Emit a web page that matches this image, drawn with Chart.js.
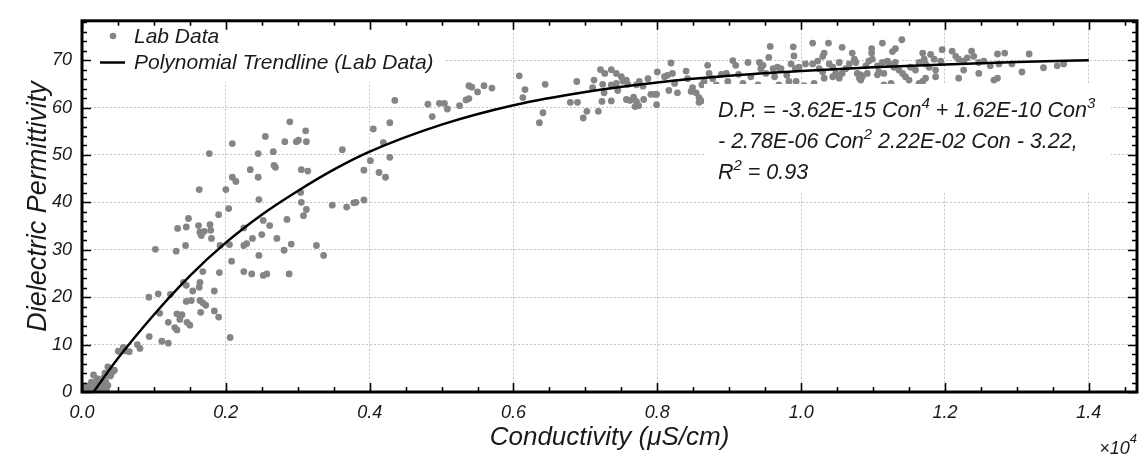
<!DOCTYPE html>
<html lang="en">
<head>
  <meta charset="UTF-8" />
  <title>Dielectric Permittivity vs Conductivity</title>
  <script src="https://cdn.jsdelivr.net/npm/chart.js"></script>
  <style>
    body { margin: 0; background: #ffffff; }
    .wrap { width: 1141px; height: 461px; }
  </style>
</head>
<body>
  <div class="wrap">
    <canvas id="dpChart" width="1141" height="461"></canvas>
  </div>

  <script>
    // Lab data: conductivity (x10^4 uS/cm) and dielectric permittivity
    const labCond = [
      0.002, 0.004, 0.006, 0.008, 0.010, 0.012, 0.013, 0.015, 0.016, 0.017, 0.018, 0.020, 0.021, 0.022, 0.023, 0.024, 0.025,
      0.026, 0.027, 0.028, 0.029, 0.030, 0.030, 0.031, 0.032, 0.033, 0.034, 0.036, 0.036, 0.039, 0.040, 0.0435, 0.045,
      0.0505, 0.0574, 0.0597, 0.0657, 0.0769, 0.0806, 0.0935, 0.111, 0.120, 0.206,
      0.289, 0.311, 0.255, 0.282, 0.298, 0.301, 0.312, 0.209, 0.177, 0.245, 0.266, 0.267, 0.269, 0.234, 0.305, 0.314,
      0.209, 0.214, 0.245, 0.163, 0.200, 0.246, 0.304, 0.305, 0.312, 0.308, 0.204, 0.190, 0.148, 0.133, 0.145, 0.162,
      0.164, 0.166, 0.170, 0.178, 0.179, 0.180, 0.252, 0.261, 0.285, 0.225, 0.237, 0.229, 0.225, 0.250, 0.271, 0.291,
      0.281, 0.326, 0.336, 0.246, 0.208, 0.225, 0.236, 0.252, 0.257, 0.288, 0.191, 0.192, 0.205, 0.144, 0.131, 0.102,
      0.141, 0.145, 0.164, 0.163, 0.154, 0.168, 0.184, 0.093, 0.106, 0.123, 0.145, 0.152, 0.164, 0.168, 0.172, 0.184,
      0.190, 0.165, 0.132, 0.139, 0.136, 0.120, 0.129, 0.132, 0.146, 0.150, 0.108,
      0.608, 0.616, 0.613, 0.644, 0.641, 0.636, 0.538, 0.542, 0.550, 0.559, 0.570, 0.534, 0.538, 0.525, 0.481, 0.497,
      0.504, 0.508, 0.487, 0.435, 0.428, 0.405, 0.419, 0.428, 0.401, 0.392, 0.413, 0.422, 0.362, 0.348, 0.368, 0.378,
      0.381, 0.392,
      0.688, 0.679, 0.689, 0.702, 0.697, 0.718, 0.712, 0.710, 0.721, 0.727, 0.736, 0.743, 0.750, 0.724, 0.726, 0.736,
      0.743, 0.745, 0.752, 0.757, 0.759, 0.723, 0.736, 0.757, 0.762, 0.767, 0.771, 0.774, 0.769, 0.781, 0.787, 0.791,
      0.796, 0.771, 0.775, 0.780, 0.800, 0.799, 0.799, 0.810, 0.814, 0.819, 0.821, 0.824, 0.828, 0.816, 0.840, 0.842,
      0.847, 0.849, 0.854, 0.858, 0.861, 0.862, 0.865, 0.870, 0.872, 0.877, 0.882, 0.889, 0.896, 0.858, 0.898, 0.905,
      0.909, 0.913, 0.919, 0.926, 0.930, 0.940, 0.942, 0.944, 0.947, 0.951, 0.955, 0.957, 0.961, 0.963, 0.967, 0.969,
      0.972, 0.980, 0.983, 0.986, 0.989, 0.990, 0.992, 0.993, 0.997, 0.956, 0.967, 0.926, 0.905, 0.895, 0.877, 0.993,
      1.016, 1.038, 1.057, 1.113, 1.140, 1.098, 1.098, 1.131, 1.127, 1.032, 1.030, 1.006, 1.016, 1.023, 1.025, 1.030,
      1.039, 1.044, 1.048, 1.053, 1.057, 1.062, 1.067, 1.071, 1.074, 1.076, 1.078, 1.083, 1.085, 1.090, 1.094, 1.099,
      1.106, 1.108, 1.113, 1.115, 1.120, 1.122, 1.129, 1.131, 1.136, 1.141, 1.145, 1.152, 1.159, 1.164, 1.169, 1.171,
      1.173, 1.178, 1.180, 1.185, 1.187, 1.194, 1.196, 1.210, 1.215, 1.219, 1.226, 1.231, 1.237, 1.240, 1.247, 1.254,
      1.263, 1.273, 1.275, 1.283, 1.293, 1.317, 1.337, 1.356, 1.365,
      1.004, 1.018, 1.032, 1.044, 1.053, 1.064, 1.081, 1.083, 1.092, 1.106, 1.115, 1.122, 1.125, 1.138, 1.150, 1.159,
      1.164, 1.169, 1.173, 1.187, 1.219, 1.226, 1.247, 1.268, 1.273, 1.307
    ];
    const labDP = [
      0.2, 0.6, 1.3, 0.3, 1.0, 0.4, 2.1, 0.8, 3.6, 1.2, 0.2, 1.5, 2.8, 0.6, 2.4, 2.0, 1.1,
      1.6, 0.3, 2.6, 2.5, 1.8, 3.0, 0.9, 4.0, 2.2, 0.5, 1.4, 5.3, 3.4, 3.5, 4.4, 4.6,
      8.6, 9.4, 8.7, 8.5, 10.0, 9.2, 11.7, 10.7, 10.3, 11.5,
      57.0, 55.1, 53.9, 52.8, 52.8, 53.1, 52.8, 52.4, 50.3, 50.3, 50.7, 47.8, 47.4, 46.9, 46.9, 46.6,
      45.3, 44.4, 45.3, 42.7, 42.7, 40.6, 42.1, 40.0, 38.5, 37.2, 38.7, 37.4, 36.6, 34.5, 34.8, 35.1,
      33.7, 33.0, 33.9, 35.3, 34.1, 32.4, 36.2, 35.1, 36.4, 34.6, 32.4, 31.3, 30.9, 33.2, 32.4, 31.2,
      29.9, 30.9, 28.8, 28.8, 27.6, 25.4, 24.9, 24.6, 24.9, 24.9, 25.2, 30.9, 31.1, 30.9, 29.7, 30.1,
      23.1, 22.5, 23.1, 22.1, 21.3, 25.4, 21.3, 20.0, 20.7, 20.6, 19.1, 19.3, 19.3, 18.8, 18.3, 17.1,
      15.8, 16.8, 16.5, 16.3, 15.3, 14.7, 13.6, 13.1, 14.7, 14.1, 16.6,
      66.7, 63.8, 62.1, 64.9, 58.9, 56.8, 64.6, 64.3, 63.3, 64.6, 64.1, 61.6, 61.9, 60.4, 60.7, 60.9,
      60.9, 59.7, 58.1, 61.5, 56.8, 55.5, 52.6, 49.5, 48.8, 46.8, 46.3, 45.3, 51.1, 39.4, 39.0, 39.9,
      40.0, 40.5,
      65.5, 61.1, 61.1, 59.2, 57.8, 59.2, 65.8, 64.2, 68.0, 67.2, 68.0, 67.2, 66.5, 64.9, 63.1, 64.8,
      65.1, 63.6, 65.6, 65.8, 64.9, 61.3, 61.4, 61.7, 61.5, 62.2, 61.3, 60.4, 60.2, 61.7, 66.1, 62.8,
      62.8, 64.8, 65.5, 64.5, 67.5, 62.8, 60.6, 66.5, 66.8, 69.4, 67.2, 65.1, 63.1, 63.6, 67.7, 66.1,
      63.4, 64.2, 63.1, 62.1, 61.4, 64.8, 65.5, 68.9, 67.2, 66.1, 64.8, 67.0, 67.2, 61.1, 65.5, 69.9,
      68.9, 67.0, 65.1, 69.5, 66.5, 64.8, 69.5, 68.2, 68.9, 67.2, 70.6, 72.9, 68.2, 66.5, 68.5, 64.8,
      68.2, 66.8, 65.5, 69.2, 72.8, 70.9, 68.2, 65.5, 68.5, 63.4, 63.1, 63.6, 64.1, 64.2, 62.3, 62.3,
      73.6, 73.6, 72.7, 73.6, 74.3, 72.4, 71.5, 72.4, 71.8, 71.5, 70.8, 69.2, 69.2, 69.8, 68.2, 67.5,
      69.2, 68.5, 67.2, 69.5, 67.2, 68.2, 69.2, 71.5, 70.2, 69.5, 67.2, 66.9, 66.5, 68.8, 69.8, 70.2,
      68.8, 67.5, 69.5, 67.2, 69.8, 69.2, 68.5, 69.5, 67.9, 67.2, 66.5, 68.5, 67.9, 69.5, 71.5, 70.2,
      69.2, 68.5, 71.2, 70.2, 67.9, 69.8, 72.2, 71.9, 70.8, 70.2, 69.8, 70.5, 71.9, 70.8, 69.5, 69.8,
      68.8, 71.3, 69.2, 71.5, 69.2, 71.3, 68.4, 68.8, 69.2,
      64.6, 65.1, 66.2, 66.5, 66.2, 63.9, 66.2, 65.8, 67.2, 66.9, 64.8, 64.1, 65.1, 64.1, 65.8, 62.8,
      65.1, 65.5, 66.2, 66.5, 66.2, 67.9, 67.2, 65.8, 66.2, 67.5
    ];

    // Polynomial trendline
    const trendCond = [0.016, 0.05, 0.1, 0.15, 0.2, 0.25, 0.3, 0.35, 0.4, 0.5, 0.6, 0.7, 0.8, 0.9, 1.0, 1.1, 1.2, 1.3, 1.4];
    const trendDP = [0, 7.1, 16.3, 24.5, 31.5, 37.4, 42.4, 46.9, 50.7, 56.4, 60.5, 63.3, 65.3, 66.7, 67.7, 68.5, 69.1, 69.6, 70.0];

    // axes
    const xMax = 1.467, yMax = 78.3;
    const xMinorStep = 0.05, yMinorStep = 2;

    const equationLines = [
      [['D.P. = -3.62E-15 Con', 0], ['4', 1], [' + 1.62E-10 Con', 0], ['3', 1]],
      [['- 2.78E-06 Con', 0], ['2', 1], [' 2.22E-02 Con - 3.22,', 0]],
      [['R', 0], ['2', 1], [' = 0.93', 0]]
    ];

    const FONT = "'Liberation Sans', Arial, sans-serif";
    const INK = '#1a1a1a';

    const labPoints = labCond.map((c, i) => ({ x: c, y: labDP[i] }));
    const trendPoints = trendCond.map((c, i) => ({ x: c, y: trendDP[i] }));

    function drawRich(ctx, parts, x, y, size) {
      parts.forEach(([txt, sup]) => {
        ctx.font = `italic ${sup ? Math.round(size * 0.68) : size}px ${FONT}`;
        ctx.fillText(txt, x, sup ? y - size * 0.42 : y);
        x += ctx.measureText(txt).width;
      });
    }

    // frame, inward ticks, legend and equation box
    const framePlugin = {
      id: 'frame',
      afterDatasetsDraw(chart) {
        const { ctx, chartArea: a, scales } = chart;
        const xs = scales.x, ys = scales.y;
        ctx.save();

        // legend box
        ctx.fillStyle = '#ffffff';
        ctx.fillRect(a.left + 3, a.top + 3, 445 - a.left - 3, 82 - a.top - 3);
        const ds = chart.data.datasets;
        ctx.fillStyle = ds[0].backgroundColor;
        ctx.beginPath();
        ctx.arc(113, 36, 3.3, 0, Math.PI * 2);
        ctx.fill();
        ctx.strokeStyle = ds[1].borderColor;
        ctx.lineWidth = 2.5;
        ctx.beginPath();
        ctx.moveTo(100, 62.5);
        ctx.lineTo(125, 62.5);
        ctx.stroke();
        ctx.fillStyle = INK;
        ctx.textBaseline = 'alphabetic';
        ctx.font = `italic 21px ${FONT}`;
        ctx.fillText(ds[0].label, 134, 43);
        ctx.fillText(ds[1].label, 134, 69);

        // equation box
        ctx.fillStyle = '#ffffff';
        ctx.fillRect(704, 84, 407, 109);
        ctx.fillStyle = INK;
        equationLines.forEach((line, i) => drawRich(ctx, line, 718, 117 + i * 31, 21.5));

        // border
        ctx.strokeStyle = '#000000';
        ctx.lineWidth = 3;
        ctx.strokeRect(a.left, a.top, a.right - a.left, a.bottom - a.top);

        // inward ticks on all four sides
        ctx.lineWidth = 1.6;
        ctx.beginPath();
        for (let v = 0; v <= xMax + 1e-9; v += xMinorStep) {
          const major = Math.abs(v / 0.2 - Math.round(v / 0.2)) < 1e-6;
          const len = major ? 9 : 5;
          const px = Math.round(xs.getPixelForValue(v)) + 0.5;
          ctx.moveTo(px, a.bottom); ctx.lineTo(px, a.bottom - len);
          ctx.moveTo(px, a.top); ctx.lineTo(px, a.top + len);
        }
        for (let v = 0; v <= yMax + 1e-9; v += yMinorStep) {
          const major = v % 10 === 0;
          const len = major ? 9 : 5;
          const py = Math.round(ys.getPixelForValue(v)) + 0.5;
          ctx.moveTo(a.left, py); ctx.lineTo(a.left + len, py);
          ctx.moveTo(a.right, py); ctx.lineTo(a.right - len, py);
        }
        ctx.stroke();

        // x10^4 multiplier
        ctx.fillStyle = INK;
        ctx.textAlign = 'right';
        ctx.font = `italic 13px ${FONT}`;
        ctx.fillText('4', a.right, 443);
        const w4 = ctx.measureText('4').width;
        ctx.font = `italic 18px ${FONT}`;
        ctx.fillText('\u00d710', a.right - w4, 454);
        ctx.restore();
      }
    };

    const ctx = document.getElementById('dpChart').getContext('2d');
    new Chart(ctx, {
      type: 'scatter',
      data: {
        datasets: [
          {
            label: 'Lab Data',
            data: labPoints,
            backgroundColor: '#858585',
            borderWidth: 0,
            pointRadius: 3.4,
            order: 2
          },
          {
            type: 'line',
            label: 'Polynomial Trendline (Lab Data)',
            data: trendPoints,
            borderColor: '#000000',
            borderWidth: 2.5,
            pointRadius: 0,
            fill: false,
            cubicInterpolationMode: 'monotone',
            order: 1
          }
        ]
      },
      options: {
        responsive: false,
        animation: false,
        layout: { padding: { top: 7, right: 4, left: 0, bottom: 0 } },
        plugins: {
          legend: { display: false },
          tooltip: { enabled: false }
        },
        scales: {
          x: {
            type: 'linear',
            min: 0,
            max: xMax,
            afterFit: s => { s.height = 69; },
            grid: { color: '#b5b5b5', lineWidth: 0.8, drawTicks: false },
            border: { display: false, dash: [2, 2] },
            ticks: {
              stepSize: 0.2,
              includeBounds: false,
              padding: 10,
              color: INK,
              font: { family: FONT, size: 18, style: 'italic' },
              callback: v => v.toFixed(1)
            },
            title: {
              display: true,
              text: 'Conductivity (\u03bcS/cm)',
              color: INK,
              font: { family: FONT, size: 26, style: 'italic', lineHeight: 38 / 26 }
            }
          },
          y: {
            min: 0,
            max: yMax,
            afterFit: s => { s.width = 82; },
            grid: { color: '#b5b5b5', lineWidth: 0.8, drawTicks: false },
            border: { display: false, dash: [2, 2] },
            ticks: {
              stepSize: 10,
              includeBounds: false,
              padding: 10,
              color: INK,
              font: { family: FONT, size: 18, style: 'italic' }
            },
            title: {
              display: true,
              text: 'Dielectric Permittivity',
              color: INK,
              font: { family: FONT, size: 27, style: 'italic', lineHeight: 68 / 27 }
            }
          }
        }
      },
      plugins: [framePlugin]
    });
  </script>
</body>
</html>
